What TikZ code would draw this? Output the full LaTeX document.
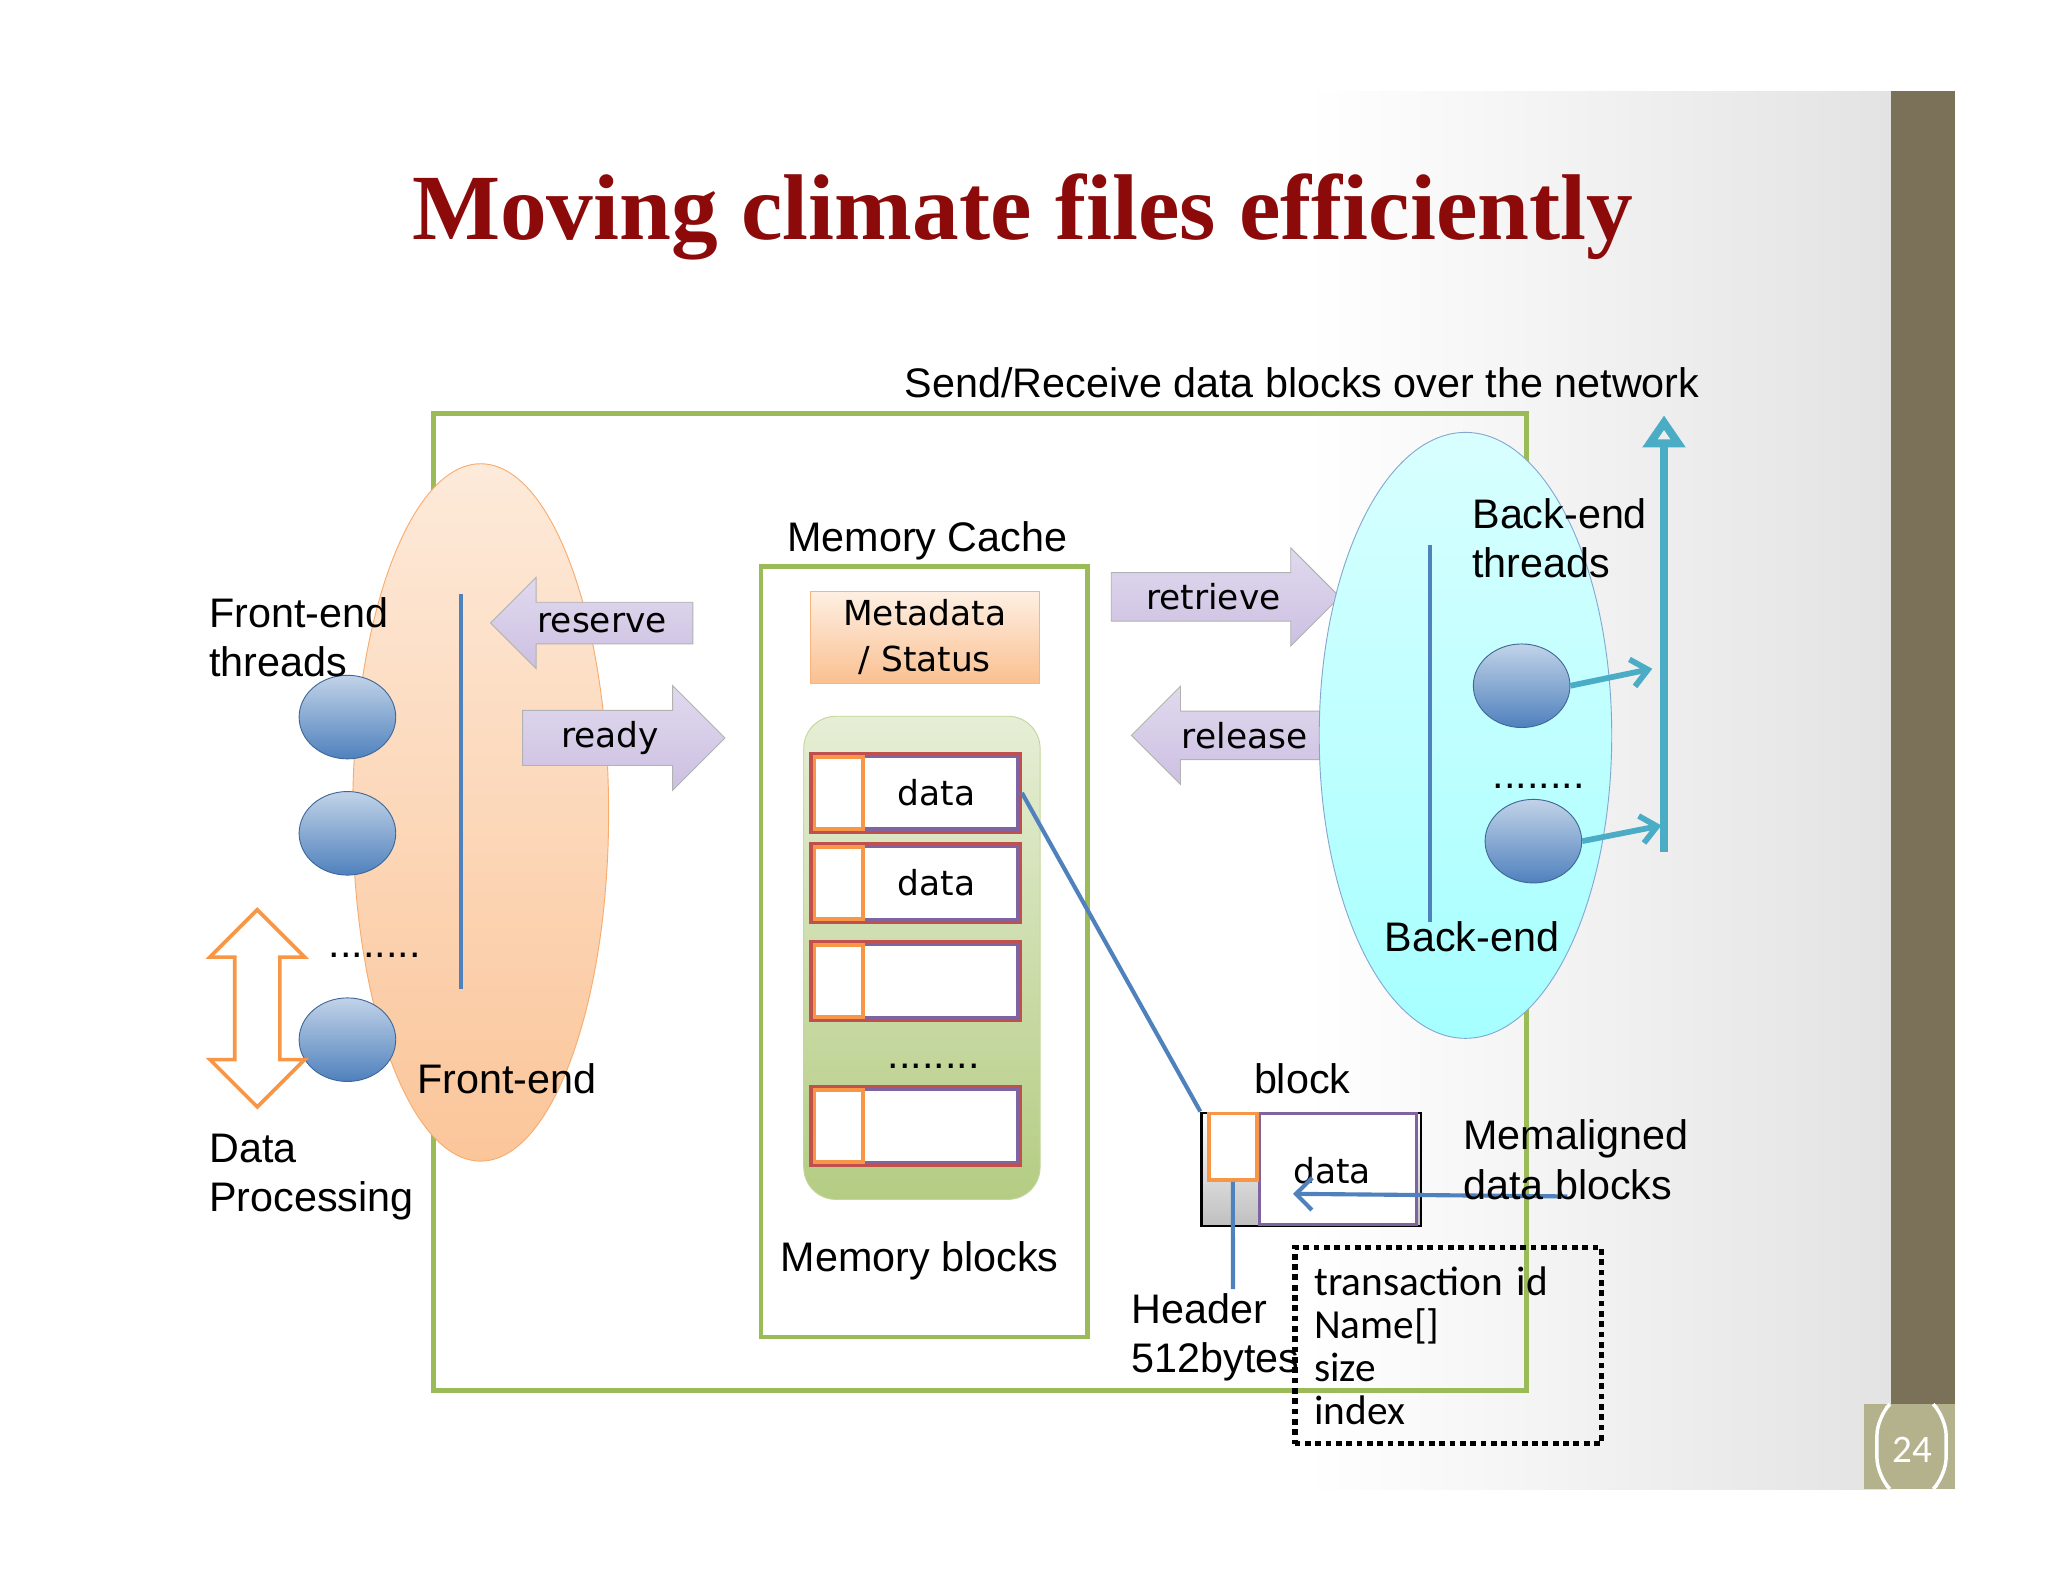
\documentclass[tikz,border=0pt]{standalone}
\usepackage{fontspec}
\setmainfont{Liberation Sans}
\newfontfamily\titlefont{Liberation Serif}
\newfontfamily\calfont{Carlito}
\newfontfamily\verd{DejaVu Sans}
\usetikzlibrary{shapes.arrows,shapes.misc,shapes.geometric,arrows.meta}
\definecolor{gr}{RGB}{155,187,89}
\definecolor{bl}{RGB}{79,129,189}
\definecolor{lav}{RGB}{204,192,226}
\definecolor{org}{RGB}{247,150,70}
\definecolor{redb}{RGB}{192,80,77}
\definecolor{pur}{RGB}{128,100,162}
\definecolor{teal}{RGB}{75,172,198}
\definecolor{brn}{RGB}{122,113,88}
\definecolor{olv}{RGB}{180,178,140}
\tikzset{
 lbl/.style={font=\fontsize{18}{21.5}\selectfont, inner sep=0pt, align=left},
 ball/.style={ellipse, minimum width=1.48cm, minimum height=1.28cm, draw=bl!80!black, line width=0.4pt, top color=bl!35!white, bottom color=bl, inner sep=0},
 larrow/.style={single arrow, draw=gray!60, top color=lav!60!white, bottom color=lav, single arrow head extend=0.38cm, minimum height=3.1cm, font=\verd\fontsize{15}{18}\selectfont, inner ysep=0.16cm, inner xsep=0.25cm},
 slot/.style={draw=redb, line width=1.6pt, minimum width=3.2cm, minimum height=1.2cm, inner sep=0, fill=white},
 hdr/.style={draw=org, line width=1.6pt, fill=white, minimum width=0.74cm, minimum height=1.1cm, inner sep=0},
 conn/.style={draw=bl, line width=1.8pt},
}
\begin{document}
\begin{tikzpicture}[x=0.02cm,y=-0.02cm]
\useasboundingbox (0,0) rectangle (1568,1211);
\fill[white] (0,0) rectangle (1568,1211);
\shade[left color=white, right color=gray!22] (1000,70) rectangle (1448,1140);
\fill[brn] (1448,70) rectangle (1497,1075);
\fill[olv] (1427,1075) rectangle (1497,1140);
\draw[white, line width=1.5pt, rounded corners=8pt] (1444,1078) -- (1437,1085) -- (1437,1130) -- (1444,1137);
\draw[white, line width=1.5pt, rounded corners=8pt] (1483,1078) -- (1490,1085) -- (1490,1130) -- (1483,1137);
\node[text=white, font=\calfont\fontsize{17}{19}\selectfont] (pg) at (1464,1110) {24};

\node[font=\titlefont\bfseries\fontsize{44}{50}\selectfont, text={rgb,255:red,140;green,10;blue,10}, inner sep=0] (title) at (783,166) {\resizebox{18.7cm}{!}{Moving climate files efficiently}};

\node[draw=gr, line width=2pt, minimum width=16.74cm, minimum height=14.96cm, anchor=north west] (outer) at (330,315) {};
\node[lbl] (net) at (997,293) {Send/Receive data blocks over the network};

% front-end
\node[ellipse, draw=org!80, top color=org!20!white, bottom color=org!55!white, minimum width=3.92cm, minimum height=10.68cm] (fe) at (368,622) {};
\draw[conn] (353,455) coordinate (fa) -- (353,757) coordinate (fb);
\node[ball] (c1) at (266,549) {};
\node[ball] (c2) at (266,638) {};
\node[ball] (c3) at (266,796) {};
\node[lbl, anchor=west] (fet) at (160,488) {Front-end\\threads};
\node[lbl] (fd) at (287,731) {........};
\node[double arrow, draw=org, line width=1.6pt, fill=white, shape border rotate=90, minimum height=3.02cm, minimum width=1.45cm, double arrow head extend=0.25cm, inner sep=0.2cm] (dp) at (197,772) {};
\node[lbl, anchor=west] (dpl) at (160,901) {Data\\Processing};
\node[lbl] (fel) at (388,826) {Front-end};

\node[larrow, shape border rotate=180] (reserve) at (461,477) {reserve};
\node[larrow] (ready) at (467,565) {ready};

% memory cache
\node[lbl] (mcl) at (710,414) {Memory Cache};
\node[draw=gr, line width=2pt, minimum width=5cm, minimum height=11.8cm, anchor=north west] (mc) at (581,432) {};
\node[draw=org!70, top color=org!15!white, bottom color=org!60!white, minimum width=3.5cm, minimum height=1.42cm, font=\verd\fontsize{15}{20}\selectfont, align=center, inner sep=0] (meta) at (708,488) {Metadata\\/ Status};
\node[rounded corners=14pt, draw=gr!60, top color=gr!25!white, bottom color=gr!75!white, minimum width=3.62cm, minimum height=7.4cm, anchor=north west] (mb) at (615,548) {};
\foreach \n/\y/\t in {s1/607/data, s2/676/data, s3/751/, s4/862/} {
  \node[slot] (\n) at (701,\y) {};
  \draw[pur, line width=1.6pt] ([shift={(0.8cm,-0.07cm)}]\n.north west) rectangle ([shift={(-0.07cm,0.07cm)}]\n.south east);
  \node[hdr, anchor=west] (\n h) at ([xshift=0.05cm]\n.west) {};
  \node[font=\verd\fontsize{15}{20}\selectfont] (\n t) at (717,\y) {\t};
}
\node[lbl] (md) at (715,816) {........};
\node[lbl] (mbl) at (704,965) {Memory blocks};

\node[larrow, minimum height=3.5cm] (retrieve) at (929,457) {retrieve};
\node[larrow, shape border rotate=180] (release) at (953,563) {release};

% back-end
\node[ellipse, draw=bl!70, top color=cyan!15!white, bottom color=cyan!35!white, minimum width=4.48cm, minimum height=9.28cm] (be) at (1122,563) {};
\draw[conn] (1095,417) coordinate (ba) -- (1095,706) coordinate (bb);
\node[lbl, anchor=west] (bet) at (1127,412) {Back-end\\threads};
\node[ball] (b1) at (1165,525) {};
\node[ball] (b2) at (1174,644) {};
\node[lbl] (bd) at (1178,602) {........};
\coordinate (up1) at (1274,652);
\coordinate (up2) at (1274,318);
\draw[teal, line width=3.5pt, -{Triangle[open, width=18pt, length=14pt, line width=3.5pt]}] (up1) -- (up2);
\coordinate (t1) at (1265,512); \coordinate (t2) at (1272,632);
\draw[teal, line width=2.5pt, -{Straight Barb[length=7pt,width=12pt]}] (b1.east) -- (t1);
\draw[teal, line width=2.5pt, -{Straight Barb[length=7pt,width=12pt]}] (b2.east) -- (t2);
\node[lbl] (bel) at (1127,717) {Back-end};

% block
\node[lbl] (blk) at (997,826) {block};
\node[draw=black, line width=1pt, top color=white, bottom color=gray!50, minimum width=3.36cm, minimum height=1.74cm, anchor=north west] (bk) at (919,851) {};
\node[draw=pur, line width=1.6pt, fill=white, minimum width=2.4cm, minimum height=1.7cm, anchor=north west] (bkd) at (963,851) {};
\node[hdr, minimum height=1.02cm, anchor=north west] (bkh) at (924,851) {};
\node[font=\verd\fontsize{15}{20}\selectfont] (bkt) at (1020,896) {data};
\draw[conn] (s1.east) -- (bk.north west);
\coordinate (ma) at (1200,916);
\draw[conn, -{Straight Barb[length=7pt,width=14pt]}] (ma) -- (990,914);
\node[lbl, anchor=west] (mal) at (1120,888) {Memaligned\\data blocks};
\coordinate (hl) at (944,987);
\draw[conn] (bkh.south) -- (hl);
\node[lbl, anchor=north west] (hdrl) at (866,990) {Header\\512bytes};
\node[draw, dotted, line width=2.5pt, minimum width=4.7cm, minimum height=3cm, anchor=north west, font=\calfont\fontsize{18}{18.7}\selectfont, align=left, text width=4.1cm, inner xsep=0.3cm, inner ysep=0.25cm] (info) at (989,953) {transaction id\\Name[]\\size\\index};
\end{tikzpicture}
\end{document}
